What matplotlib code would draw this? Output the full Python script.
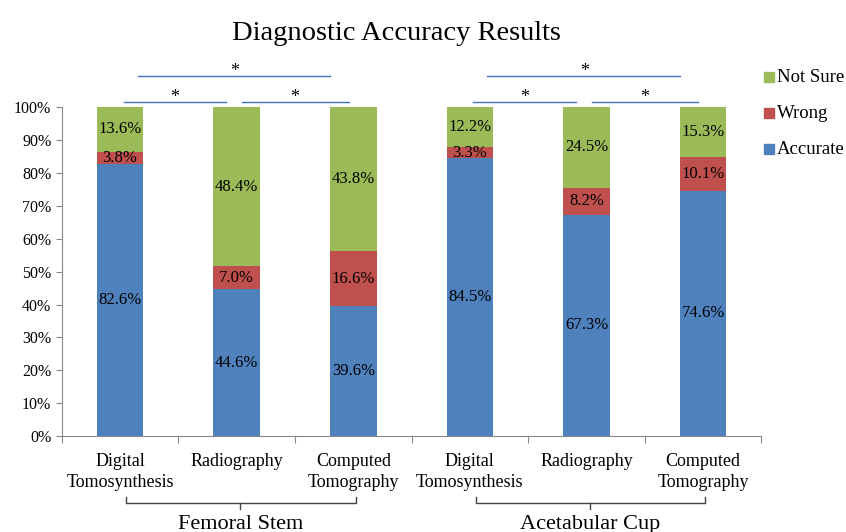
import matplotlib
matplotlib.use("Agg")
import matplotlib.pyplot as plt
from matplotlib.patches import Rectangle
import numpy as np

plt.rcParams['font.family'] = ['Liberation Serif', 'DejaVu Serif']

categories = ["Digital\nTomosynthesis", "Radiography", "Computed\nTomography",
              "Digital\nTomosynthesis", "Radiography", "Computed\nTomography"]
groups = ["Femoral Stem", "Acetabular Cup"]
legend_labels = ["Not Sure", "Wrong", "Accurate"]
accurate = [82.6, 44.6, 39.6, 84.5, 67.3, 74.6]
wrong = [3.8, 7.0, 16.6, 3.3, 8.2, 10.1]
not_sure = [13.6, 48.4, 43.8, 12.2, 24.5, 15.3]

c_acc = "#4F81BD"
c_wrong = "#C0504D"
c_ns = "#9BBB59"

W, H = 846, 532
fig = plt.figure(figsize=(W / 100, H / 100), dpi=100)
ax = fig.add_axes([0.073, 0.180, 0.827, 0.619])

x = np.arange(len(categories))
w = 0.4
acc = np.array(accurate); wr = np.array(wrong); ns = np.array(not_sure)
ax.bar(x, acc, w, color=c_acc)
ax.bar(x, wr, w, bottom=acc, color=c_wrong)
ax.bar(x, ns, w, bottom=acc + wr, color=c_ns)

for i in range(len(x)):
    for bottom, val in [(0, acc[i]), (acc[i], wr[i]), (acc[i] + wr[i], ns[i])]:
        ax.text(x[i], bottom + val / 2, f"{val:.1f}%", ha="center", va="center",
                fontsize=12, color="black")

ax.set_xlim(-0.5, len(x) - 0.5)
ax.set_ylim(0, 100)
ax.set_yticks(np.arange(0, 101, 10))
ax.set_yticklabels([f"{v}%" for v in range(0, 101, 10)], fontsize=11.5)
ax.set_xticks(np.arange(-0.5, len(x), 1.0))
ax.set_xticklabels([])
ax.set_xticks(x, minor=True)
ax.set_xticklabels(categories, minor=True, fontsize=13, linespacing=1.3)
ax.tick_params(axis="x", which="minor", length=0, pad=12)
ax.tick_params(axis="x", which="major", length=5, color="#888888")
ax.tick_params(axis="y", length=4, color="#888888")
for s in ["top", "right"]:
    ax.spines[s].set_visible(False)
for s in ["left", "bottom"]:
    ax.spines[s].set_color("#888888")

# significance lines
line_c = "#4472C4"
for off in [0, 3]:
    ax.plot([off + 0.03, off + 0.91], [101.5, 101.5], color=line_c, lw=1, clip_on=False)
    ax.plot([off + 1.05, off + 1.96], [101.5, 101.5], color=line_c, lw=1, clip_on=False)
    ax.plot([off + 0.15, off + 1.80], [109.4, 109.4], color=line_c, lw=1, clip_on=False)
    ax.text(off + 0.47, 100.4, "*", ha="center", va="bottom", fontsize=13)
    ax.text(off + 1.50, 100.4, "*", ha="center", va="bottom", fontsize=13)
    ax.text(off + 0.98, 108.3, "*", ha="center", va="bottom", fontsize=13)

# group brackets
trans = ax.get_xaxis_transform()
for gi, g in enumerate(groups):
    off = gi * 3
    xl, xr, xc = off + 0.05, off + 2.02, off + 1.03
    yb = -0.204
    ax.plot([xl, xl, xr, xr], [yb + 0.018, yb, yb, yb + 0.018], color="#444444", lw=1,
            transform=trans, clip_on=False)
    ax.plot([xc, xc], [yb, yb - 0.018], color="#444444", lw=1, transform=trans, clip_on=False)
    ax.text(xc, yb - 0.034, g, ha="center", va="top", fontsize=16, transform=trans)

fig.text(396 / W, 1 - 33 / H, "Diagnostic Accuracy Results", ha="center", va="center",
         fontsize=20.5)

# legend drawn manually
leg_colors = [c_ns, c_wrong, c_acc]
leg_y = [77, 113, 149]
for lab, col, yy in zip(legend_labels, leg_colors, leg_y):
    fig.patches.append(Rectangle((764 / W, 1 - (yy + 5) / H), 10 / W, 10 / H,
                                 transform=fig.transFigure, color=col))
    fig.text(777 / W, 1 - yy / H, lab, ha="left", va="center", fontsize=13.5)

fig.savefig("out.png", dpi=100)
